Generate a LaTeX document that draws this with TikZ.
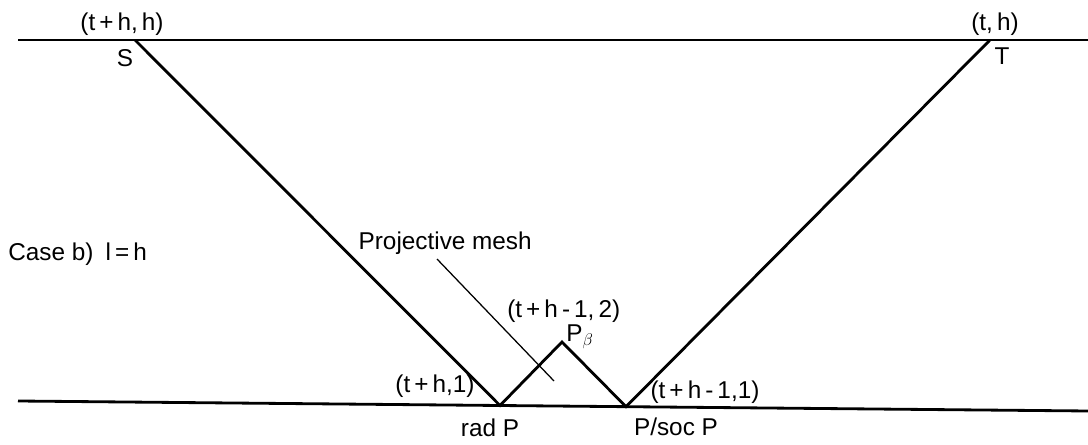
\documentclass[tikz,border=0pt]{standalone}
\usepackage{fontspec}
\setmainfont{Liberation Sans}
\usetikzlibrary{positioning}

\begin{document}
\begin{tikzpicture}[
    x=0.025cm, y=-0.025cm,
    every node/.style={
      inner sep=0pt,
      font=\fontsize{17.3}{20}\selectfont
    },
    mainline/.style={line width=2pt},
    leader/.style={line width=0.9pt}
  ]
    \useasboundingbox (0,0) rectangle (1088,445);
    % the two horizontal lines
    \coordinate (topL) at (18,40);
    \coordinate (topR) at (1088,40);
    \coordinate (botL) at (18,401);
    \coordinate (botR) at (1088,411);
    % corners of the big triangle and the mesh
    \coordinate (S) at (135,40);
    \coordinate (T) at (990,40);
    \coordinate (radP) at (500,405.5);
    \coordinate (socP) at (626,406.7);
    \coordinate (Pbeta) at (562,342);
    \coordinate (meshA) at (437,259);
    \coordinate (meshB) at (554,381);

    \draw[mainline] (topL) -- (topR);
    \draw[mainline] (botL) -- (botR);
    \draw[mainline] (S) -- (radP) -- (Pbeta) -- (socP) -- (T);
    \draw[leader] (meshA) -- (meshB);

    \node[anchor=base] (lblSh) at (122,31) {(t\,+\,h,\,h)};
    \node[anchor=base] (lblS) at (125,67) {S};
    \node[anchor=base] (lblTh) at (995,31) {(t,\,h)};
    \node[anchor=base] (lblT) at (1002,65) {T};
    \node[anchor=base west] (case) at (8,261) {Case b)\enspace l\,=\,h};
    \node[anchor=base east] (mesh) at (532,250) {Projective mesh};
    \node[anchor=base west] (lbl2) at (507,318) {(t\,+\,h\,-\,1,\,2)};
    \node[anchor=base west] (lblPb) at (566,342) {P$_\beta$};
    \node[anchor=base] (lbl1) at (435,393) {(t\,+\,h,1)};
    \node[anchor=base] (lblh1) at (705,399) {(t\,+\,h\,-\,1,1)};
    \node[anchor=base] (lblrad) at (490,437) {rad P};
    \node[anchor=base] (lblsoc) at (676,436) {P/soc P};
  \end{tikzpicture}
\end{document}
